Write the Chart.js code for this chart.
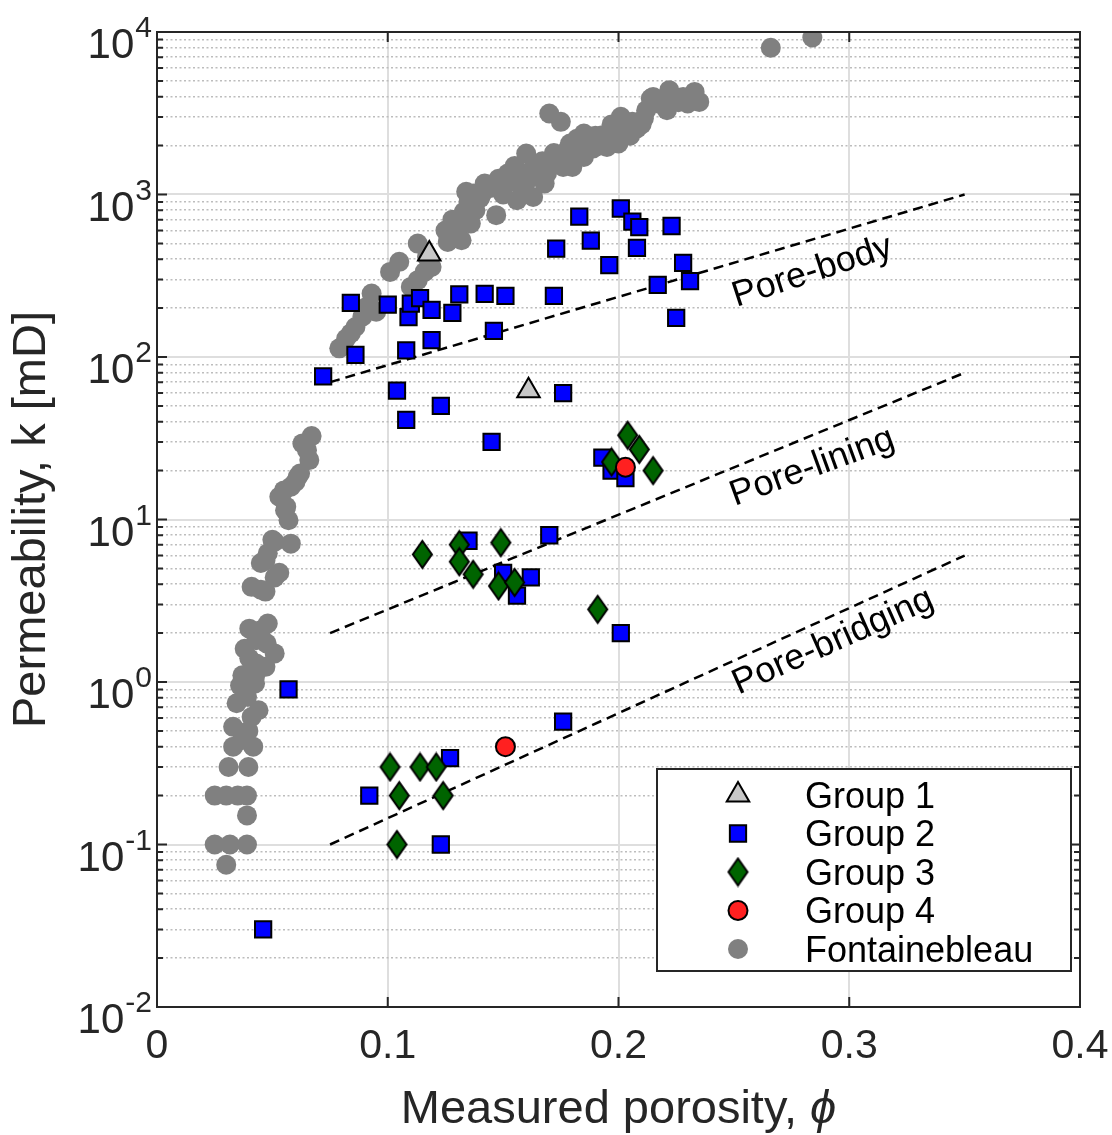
<!DOCTYPE html>
<html>
<head>
<meta charset="utf-8">
<title>Permeability vs porosity</title>
<script src="https://cdn.jsdelivr.net/npm/chart.js@4.4.1/dist/chart.umd.min.js"></script>
<style>
  html, body { margin: 0; padding: 0; background: #fff; }
  #wrap { width: 1112px; height: 1135px; position: relative; }
</style>
</head>
<body>
<div id="wrap"><canvas id="chart"></canvas></div>
<script>
const FONT = "'Liberation Sans', Arial, Helvetica, sans-serif";
const AXIS_COLOR = '#262626';

// sample groups: porosity (fraction) and permeability (mD)
const group1Phi = [0.118, 0.161];
const group1Perm = [430, 62];

const group2Phi = [0.084, 0.100, 0.086, 0.072, 0.109, 0.110, 0.114, 0.119, 0.108, 0.119,
  0.128, 0.131, 0.142, 0.151, 0.146, 0.172, 0.173, 0.183, 0.188, 0.196,
  0.201, 0.206, 0.209, 0.208, 0.223, 0.217, 0.228, 0.231, 0.225, 0.104,
  0.123, 0.108, 0.145, 0.176, 0.057, 0.170, 0.135, 0.162, 0.150, 0.156,
  0.193, 0.197, 0.203, 0.201, 0.176, 0.127, 0.092, 0.123, 0.046];
const group2Perm = [215, 210, 103, 76, 176, 213, 230, 195, 110, 127,
  187, 243, 245, 238, 145, 238, 465, 730, 520, 367,
  820, 680, 630, 470, 640, 278, 380, 293, 174, 62,
  50, 41, 30, 60, 0.9, 8, 7.4, 4.4, 4.7, 3.4,
  24, 20, 18, 2, 0.57, 0.34, 0.2, 0.1, 0.03];

const group3Phi = [0.101, 0.114, 0.121, 0.105, 0.124, 0.104, 0.115, 0.131, 0.131, 0.137,
  0.149, 0.148, 0.155, 0.191, 0.204, 0.209, 0.197, 0.215];
const group3Perm = [0.3, 0.3, 0.3, 0.2, 0.2, 0.1, 6.1, 7, 5.5, 4.6,
  7.2, 3.9, 4.1, 2.8, 33, 27, 22.6, 20];

const group4Phi = [0.203, 0.151];
const group4Perm = [21, 0.4];

const fontainebleauPhi = [0.079, 0.082, 0.084, 0.086, 0.089, 0.090, 0.092, 0.093, 0.095, 0.101,
  0.105, 0.113, 0.113, 0.116, 0.117, 0.119, 0.126, 0.130, 0.132, 0.133,
  0.133, 0.134, 0.136, 0.137, 0.141, 0.142, 0.147, 0.148, 0.152, 0.155,
  0.156, 0.158, 0.160, 0.163, 0.165, 0.168, 0.169, 0.170, 0.173, 0.175,
  0.176, 0.179, 0.180, 0.183, 0.185, 0.185, 0.189, 0.190, 0.193, 0.195,
  0.195, 0.197, 0.200, 0.201, 0.205, 0.208, 0.208, 0.210, 0.211, 0.214,
  0.215, 0.221, 0.222, 0.226, 0.228, 0.230, 0.233, 0.235, 0.266, 0.284,
  0.125, 0.128, 0.135, 0.138, 0.140, 0.145, 0.150, 0.153, 0.157, 0.160,
  0.162, 0.165, 0.167, 0.170, 0.172, 0.175, 0.178, 0.180, 0.182, 0.187,
  0.190, 0.192, 0.198, 0.203, 0.206, 0.212, 0.218, 0.224, 0.232, 0.110,
  0.067, 0.063, 0.066, 0.065, 0.062, 0.061, 0.060, 0.058, 0.055, 0.053,
  0.056, 0.0555, 0.057, 0.051, 0.058, 0.050, 0.048, 0.047, 0.045, 0.053,
  0.051, 0.041, 0.047, 0.045, 0.040, 0.048, 0.045, 0.043, 0.0475, 0.051,
  0.038, 0.040, 0.043, 0.047, 0.037, 0.0425, 0.036, 0.0425, 0.039, 0.0345,
  0.044, 0.041, 0.033, 0.0396, 0.037, 0.033, 0.0417, 0.031, 0.0396, 0.025,
  0.030, 0.035, 0.039, 0.039, 0.025, 0.0316, 0.039, 0.030];
const fontainebleauPerm = [113, 130, 140, 153, 177, 200, 208, 246, 190, 334,
  385, 499, 297, 334, 413, 358, 511, 575, 523, 728,
  782, 1038, 663, 1014, 1014, 1169, 746, 1250, 1346, 1500,
  922, 1150, 1787, 966, 1500, 1169, 1346, 3150, 1626, 2800,
  1479, 2061, 1479, 2000, 2373, 1704, 1919, 2100, 2317, 1963,
  2159, 2700, 2061, 3005, 2300, 2548, 2606, 2700, 2937, 3898,
  3986, 3301, 4385, 3700, 3986, 3631, 4280, 3715, 8000, 9250,
  600, 700, 900, 800, 950, 1100, 1000, 1200, 1300, 1200,
  1400, 1300, 1600, 1500, 1800, 1700, 1900, 1750, 2200, 2000,
  2300, 2000, 2300, 2500, 2800, 3300, 3600, 4000, 3900, 270,
  32.6, 29.4, 23.2, 26.7, 19.2, 18.3, 17.0, 15.9, 15.1, 13.8,
  12.0, 11.4, 9.9, 7.3, 7.1, 7.5, 6.2, 5.6, 5.4, 4.7,
  4.4, 3.85, 3.6, 3.7, 2.13, 2.29, 2.08, 1.81, 1.73, 1.5,
  1.6, 1.4, 1.3, 1.24, 1.1, 1.08, 0.95, 0.98, 0.81, 0.74,
  0.67, 0.61, 0.53, 0.5, 0.44, 0.4, 0.4, 0.3, 0.3, 0.2,
  0.2, 0.2, 0.2, 0.151, 0.1, 0.1, 0.1, 0.075];

// dashed pore-type trends
const trendPhi = [0.075, 0.35];
const poreBodyPerm = [70, 1000];
const poreLiningPerm = [2, 80];
const poreBridgingPerm = [0.1, 6];

const trendLabels = ['Pore-body', 'Pore-lining', 'Pore-bridging'];
const trendLabelPhi = [0.284, 0.284, 0.293];
const trendLabelPerm = [334, 21, 1.77];
const trendLabelAngle = [-18, -20, -24];

const phiTicks = [0, 0.1, 0.2, 0.3, 0.4];
const permDecades = [-2, -1, 0, 1, 2, 3, 4];

function toPoints(xs, ys) {
  return xs.map((x, i) => ({ x: x, y: ys[i] }));
}

// diamond marker, taller than wide
function makeDiamond(w, h, fill) {
  const c = document.createElement('canvas');
  c.width = w + 4;
  c.height = h + 4;
  const g = c.getContext('2d');
  g.beginPath();
  g.moveTo(c.width / 2, 2);
  g.lineTo(c.width - 2, c.height / 2);
  g.lineTo(c.width / 2, c.height - 2);
  g.lineTo(2, c.height / 2);
  g.closePath();
  g.fillStyle = fill;
  g.fill();
  g.lineWidth = 2;
  g.strokeStyle = '#000';
  g.stroke();
  return c;
}

const diamond = makeDiamond(19, 27, '#006400');

function trendLine(ys) {
  return {
    label: '',
    data: toPoints(trendPhi, ys),
    showLine: true,
    borderColor: '#000',
    borderWidth: 2.5,
    borderDash: [10, 6],
    pointRadius: 0,
    fill: false,
    order: 5,
    isTrend: true
  };
}

const datasets = [
  { label: 'Group 1', data: toPoints(group1Phi, group1Perm), pointStyle: 'triangle',
    pointRadius: 13, backgroundColor: '#c8c8c8', borderColor: '#000', borderWidth: 2, order: 4 },
  { label: 'Group 2', data: toPoints(group2Phi, group2Perm), pointStyle: 'rect',
    pointRadius: 11.5, backgroundColor: '#0000ff', borderColor: '#000', borderWidth: 2, order: 3 },
  { label: 'Group 3', data: toPoints(group3Phi, group3Perm), pointStyle: diamond,
    pointRadius: 12, backgroundColor: '#006400', borderColor: '#000', borderWidth: 2, order: 2 },
  { label: 'Group 4', data: toPoints(group4Phi, group4Perm), pointStyle: 'circle',
    pointRadius: 9.5, backgroundColor: '#ff2020', borderColor: '#000', borderWidth: 2, order: 1 },
  { label: 'Fontainebleau', data: toPoints(fontainebleauPhi, fontainebleauPerm), pointStyle: 'circle',
    pointRadius: 10, backgroundColor: '#808080', borderColor: '#808080', borderWidth: 0, order: 6 },
  trendLine(poreBodyPerm),
  trendLine(poreLiningPerm),
  trendLine(poreBridgingPerm)
];

function isMajor(ctx) {
  return ctx.tick && ctx.tick.major;
}

const axesDecor = {
  id: 'axesDecor',
  afterDatasetsDraw(chart) {
    const { ctx, scales: { x, y } } = chart;
    ctx.save();
    ctx.fillStyle = '#000';
    ctx.font = '36px ' + FONT;
    ctx.textAlign = 'center';
    ctx.textBaseline = 'middle';
    trendLabels.forEach((t, i) => {
      ctx.save();
      ctx.translate(x.getPixelForValue(trendLabelPhi[i]), y.getPixelForValue(trendLabelPerm[i]));
      ctx.rotate(trendLabelAngle[i] * Math.PI / 180);
      ctx.fillText(t, 0, 0);
      ctx.restore();
    });
    ctx.restore();
  },
  afterDraw(chart) {
    const { ctx, chartArea: a, scales: { x, y } } = chart;
    ctx.save();

    // box and inward ticks on all four sides
    ctx.strokeStyle = AXIS_COLOR;
    ctx.lineWidth = 2;
    ctx.strokeRect(a.left, a.top, a.right - a.left, a.bottom - a.top);
    ctx.beginPath();
    x.ticks.forEach(t => {
      const px = x.getPixelForValue(t.value);
      ctx.moveTo(px, a.bottom); ctx.lineTo(px, a.bottom - 10);
      ctx.moveTo(px, a.top); ctx.lineTo(px, a.top + 10);
    });
    y.ticks.forEach(t => {
      const py = y.getPixelForValue(t.value);
      const len = t.major ? 10 : 6;
      ctx.moveTo(a.left, py); ctx.lineTo(a.left + len, py);
      ctx.moveTo(a.right, py); ctx.lineTo(a.right - len, py);
    });
    ctx.stroke();

    // y tick labels as 10 with a raised exponent
    ctx.fillStyle = AXIS_COLOR;
    ctx.textBaseline = 'alphabetic';
    ctx.textAlign = 'left';
    permDecades.forEach(e => {
      const py = y.getPixelForValue(Math.pow(10, e));
      ctx.font = '30px ' + FONT;
      const ew = ctx.measureText(String(e)).width;
      ctx.font = '42px ' + FONT;
      const bw = ctx.measureText('10').width;
      const x0 = 151 - ew - bw;
      const base = py + 26;
      ctx.fillText('10', x0, base);
      ctx.font = '30px ' + FONT;
      ctx.fillText(String(e), x0 + bw + 1, base - 21);
    });

    // x axis title with italic phi
    const main = 'Measured porosity, ';
    ctx.font = '47px ' + FONT;
    const mw = ctx.measureText(main).width;
    ctx.font = 'italic 47px ' + FONT;
    const pw = ctx.measureText('\u03d5').width;
    const cx = (a.left + a.right) / 2;
    const tx = cx - (mw + pw) / 2;
    ctx.font = '47px ' + FONT;
    ctx.fillText(main, tx, 1123);
    ctx.font = 'italic 47px ' + FONT;
    ctx.fillText('\u03d5', tx + mw, 1123);

    // legend box in the lower right of the plot
    const lx = a.right - 423, ly = a.bottom - 238, lw = 414, lh = 202;
    ctx.fillStyle = '#fff';
    ctx.fillRect(lx, ly, lw, lh);
    ctx.strokeStyle = AXIS_COLOR;
    ctx.lineWidth = 2;
    ctx.strokeRect(lx, ly, lw, lh);
    const entries = chart.data.datasets.filter(d => !d.isTrend);
    entries.forEach((d, i) => {
      const rowY = ly + 26 + i * 38.5;
      ctx.fillStyle = d.backgroundColor;
      ctx.strokeStyle = d.borderColor;
      ctx.lineWidth = d.borderWidth;
      Chart.helpers.drawPoint(ctx, {
        pointStyle: d.pointStyle, radius: d.pointRadius, rotation: 0, borderWidth: d.borderWidth
      }, lx + 81, rowY);
      ctx.fillStyle = '#000';
      ctx.font = '36px ' + FONT;
      ctx.textBaseline = 'middle';
      ctx.fillText(d.label, lx + 148, rowY + 3);
    });
    ctx.restore();
  }
};

new Chart(document.getElementById('chart'), {
  type: 'scatter',
  data: { datasets: datasets },
  plugins: [axesDecor],
  options: {
    responsive: true,
    maintainAspectRatio: false,
    animation: false,
    devicePixelRatio: 1,
    layout: { padding: { top: 32, right: 32, left: 0, bottom: 0 } },
    plugins: {
      legend: { display: false },
      tooltip: { enabled: false }
    },
    scales: {
      x: {
        type: 'linear',
        min: 0,
        max: 0.4,
        afterFit: s => {
          s.height = 128;
          s.paddingLeft = 0;
          s.paddingRight = 0;
        },
        afterBuildTicks: s => { s.ticks = phiTicks.map(v => ({ value: v })); },
        grid: { color: '#dedede', lineWidth: 2, drawTicks: false },
        border: { display: false },
        ticks: {
          font: { family: FONT, size: 41, lineHeight: 1 },
          color: AXIS_COLOR,
          padding: 19,
          maxRotation: 0,
          autoSkip: false,
          callback: v => String(v)
        }
      },
      y: {
        type: 'logarithmic',
        min: 0.01,
        max: 10000,
        afterFit: s => {
          s.width = 157;
          s.paddingTop = 0;
          s.paddingBottom = 0;
        },
        afterBuildTicks: s => {
          const ticks = [];
          permDecades.forEach((e, i) => {
            const last = i === permDecades.length - 1;
            for (let m = 1; m <= (last ? 1 : 9); m++) {
              ticks.push({ value: m * Math.pow(10, e), major: m === 1 });
            }
          });
          s.ticks = ticks;
        },
        grid: {
          color: ctx => isMajor(ctx) ? '#dedede' : '#bdbdbd',
          lineWidth: ctx => isMajor(ctx) ? 2 : 1.5,
          drawTicks: false
        },
        border: { display: false, dash: ctx => isMajor(ctx) ? [] : [2, 2.5] },
        ticks: { display: false },
        title: {
          display: true,
          text: 'Permeability, k [mD]',
          font: { family: FONT, size: 47 },
          color: AXIS_COLOR,
          padding: { top: 4, bottom: 0 }
        }
      }
    }
  }
});
</script>
</body>
</html>
